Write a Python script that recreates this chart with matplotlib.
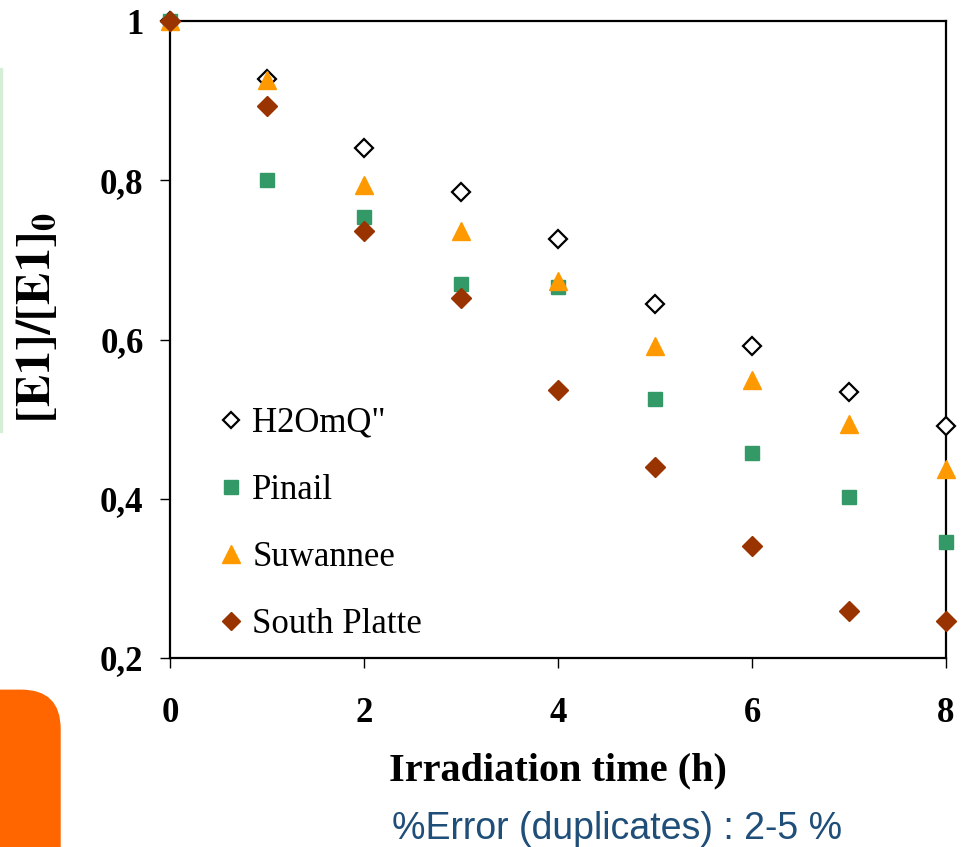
import matplotlib.pyplot as plt
from matplotlib.patches import FancyBboxPatch, Rectangle

plt.rcParams['font.family'] = ['Liberation Serif', 'DejaVu Serif']
plt.rcParams['mathtext.fontset'] = 'stix'

# irradiation time (h)
t = [0, 1, 2, 3, 4, 5, 6, 7, 8]

# normalised E1 concentration for each water
h2omq = [1.0, 0.927, 0.840, 0.785, 0.726, 0.645, 0.592, 0.534, 0.491]
pinail = [1.0, 0.800, 0.754, 0.670, 0.666, 0.525, 0.457, 0.402, 0.346]
suwannee = [1.0, 0.926, 0.794, 0.736, 0.673, 0.592, 0.549, 0.494, 0.437]
south_platte = [1.0, 0.893, 0.736, 0.652, 0.537, 0.440, 0.341, 0.259, 0.246]

xticks = [0, 2, 4, 6, 8]
yticks = [0.2, 0.4, 0.6, 0.8, 1.0]
ylabels = ["0,2", "0,4", "0,6", "0,8", "1"]

fig = plt.figure(figsize=(9.68, 8.47), dpi=100)
ax = fig.add_axes([0.1756, 0.2231, 0.8017, 0.7521])

# draw order so South Platte sits on top at t=0 like the original
ax.plot(t, pinail, "s", color="#339966", ms=10, ls="none", label="Pinail", zorder=3, clip_on=False)
ax.plot(t, suwannee, "^", color="#FF9900", ms=13, ls="none", label="Suwannee", zorder=4, clip_on=False)
ax.plot(t, h2omq, "D", mfc="white", mec="black", mew=1.6, ms=9, ls="none", label="H2OmQ\"", zorder=2, clip_on=False)
ax.plot(t, south_platte, "D", color="#993300", ms=10, ls="none", label="South Platte", zorder=5, clip_on=False)

ax.set_xlim(0, 8)
ax.set_ylim(0.2, 1.0)
ax.set_xticks(xticks)
ax.set_xticklabels([str(x) for x in xticks])
ax.set_yticks(yticks)
ax.set_yticklabels(ylabels)
ax.tick_params(direction="out", length=7, width=1, labelsize=25)
ax.tick_params(axis="x", pad=21)
ax.tick_params(axis="y", pad=12)
for lab in ax.get_xticklabels() + ax.get_yticklabels():
    lab.set_fontweight("bold")
for s in ax.spines.values():
    s.set_linewidth(1.6)
    s.set_zorder(1)

ax.set_xlabel("Irradiation time (h)", fontsize=29, fontweight="bold", labelpad=16)
ax.set_ylabel(r"$\mathbf{[E1]/[E1]_0}$", fontsize=35)
ax.yaxis.set_label_coords(-0.142, 0.534)

handles, labels = ax.get_legend_handles_labels()
order = [2, 0, 1, 3]
ax.legend([handles[i] for i in order], [labels[i] for i in order],
          loc="lower left", bbox_to_anchor=(0.021, -0.022), frameon=False,
          fontsize=25, labelspacing=0.98, handletextpad=0.2, handlelength=0.8,
          markerscale=0.95)

fig.text(0.637, 0.0, "%Error (duplicates) : 2-5 %", color="#1F4E79",
         fontsize=27, family="Liberation Sans", ha="center", va="bottom")

# decorations from the slide
fig.patches.append(FancyBboxPatch((-0.05, -0.05), 0.112, 0.235,
                                  boxstyle="round,pad=0,rounding_size=0.04",
                                  transform=fig.transFigure, color="#FF6600",
                                  mutation_aspect=968 / 847))
fig.patches.append(Rectangle((0, 0.49), 0.002, 0.43, transform=fig.transFigure,
                             color="#D5EED5"))

fig.savefig("out.png", dpi=100)
